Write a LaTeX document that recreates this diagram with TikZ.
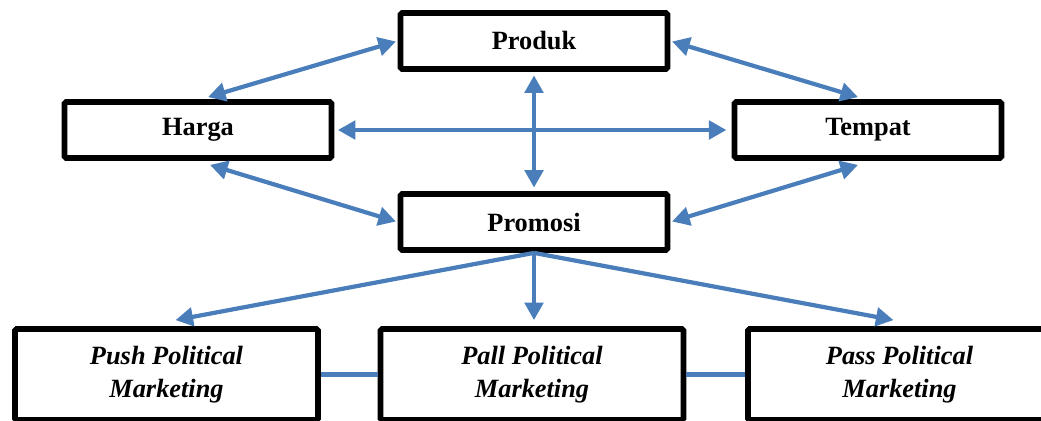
\documentclass[tikz,border=0pt]{standalone}
\usepackage{fontspec}
\setmainfont{Liberation Serif}
\usetikzlibrary{arrows.meta}
\definecolor{garisbiru}{RGB}{74,126,187}
\begin{document}
\begin{tikzpicture}[x=0.02cm,y=-0.02cm,
	kotak/.style={draw,line width=3.3pt,rounded corners=1pt,fill=white,
		minimum width=5.34cm,minimum height=1.12cm,
		font=\fontsize{15}{18}\selectfont\bfseries},
	kotakbawah/.style={kotak,minimum width=6.06cm,minimum height=1.82cm,align=center,
		font=\fontsize{15}{18.5}\selectfont\bfseries\itshape},
	ujung/.tip={Triangle[length=10pt,width=10.5pt]},
	panah/.style={garisbiru,line width=2.4pt},
	]
	\useasboundingbox (0,0) rectangle (1041,420);
	% kotak bauran pemasaran
	\node[kotak] (produk) at (534,41) {Produk};
	\node[kotak] (harga) at (198,130) {Harga};
	\node[kotak] (tempat) at (868,130) {Tempat};
	\node[kotak] (promosi) at (534,222) {Promosi};
	% kotak strategi
	\node[kotakbawah] (push) at (166.5,374.5) {Push Political\\Marketing};
	\node[kotakbawah] (pall) at (532,374.5) {Pall Political\\Marketing};
	\node[kotakbawah] (pass) at (899.5,374.5) {Pass Political\\Marketing};
	% panah dua arah
	\draw[panah,ujung-ujung,shorten <=1pt] (produk.west)--([shift={(10,-2)}]harga.north);
	\draw[panah,ujung-ujung,shorten <=1pt] (produk.east)--([shift={(-10,-2)}]tempat.north);
	\draw[panah,ujung-ujung,shorten <=2pt,shorten >=3pt] (harga.east)--(tempat.west);
	\draw[panah,ujung-ujung,shorten <=2pt,shorten >=2pt] (produk.south)--(promosi.north);
	\draw[panah,ujung-ujung,shorten >=1pt] ([shift={(12,4)}]harga.south)--(promosi.west);
	\draw[panah,ujung-ujung,shorten >=1pt] ([shift={(-10,4)}]tempat.south)--(promosi.east);
	% panah ke strategi
	\draw[panah,-ujung] (promosi.south)--([shift={(9,-6)}]push.north);
	\draw[panah,-ujung] (promosi.south)--([shift={(2,-6)}]pall.north);
	\draw[panah,-ujung] (promosi.south)--([shift={(-6,-6)}]pass.north);
	% garis penghubung
	\draw[panah] (push.east)--(pall.west);
	\draw[panah] (pall.east)--(pass.west);
\end{tikzpicture}
\end{document}
